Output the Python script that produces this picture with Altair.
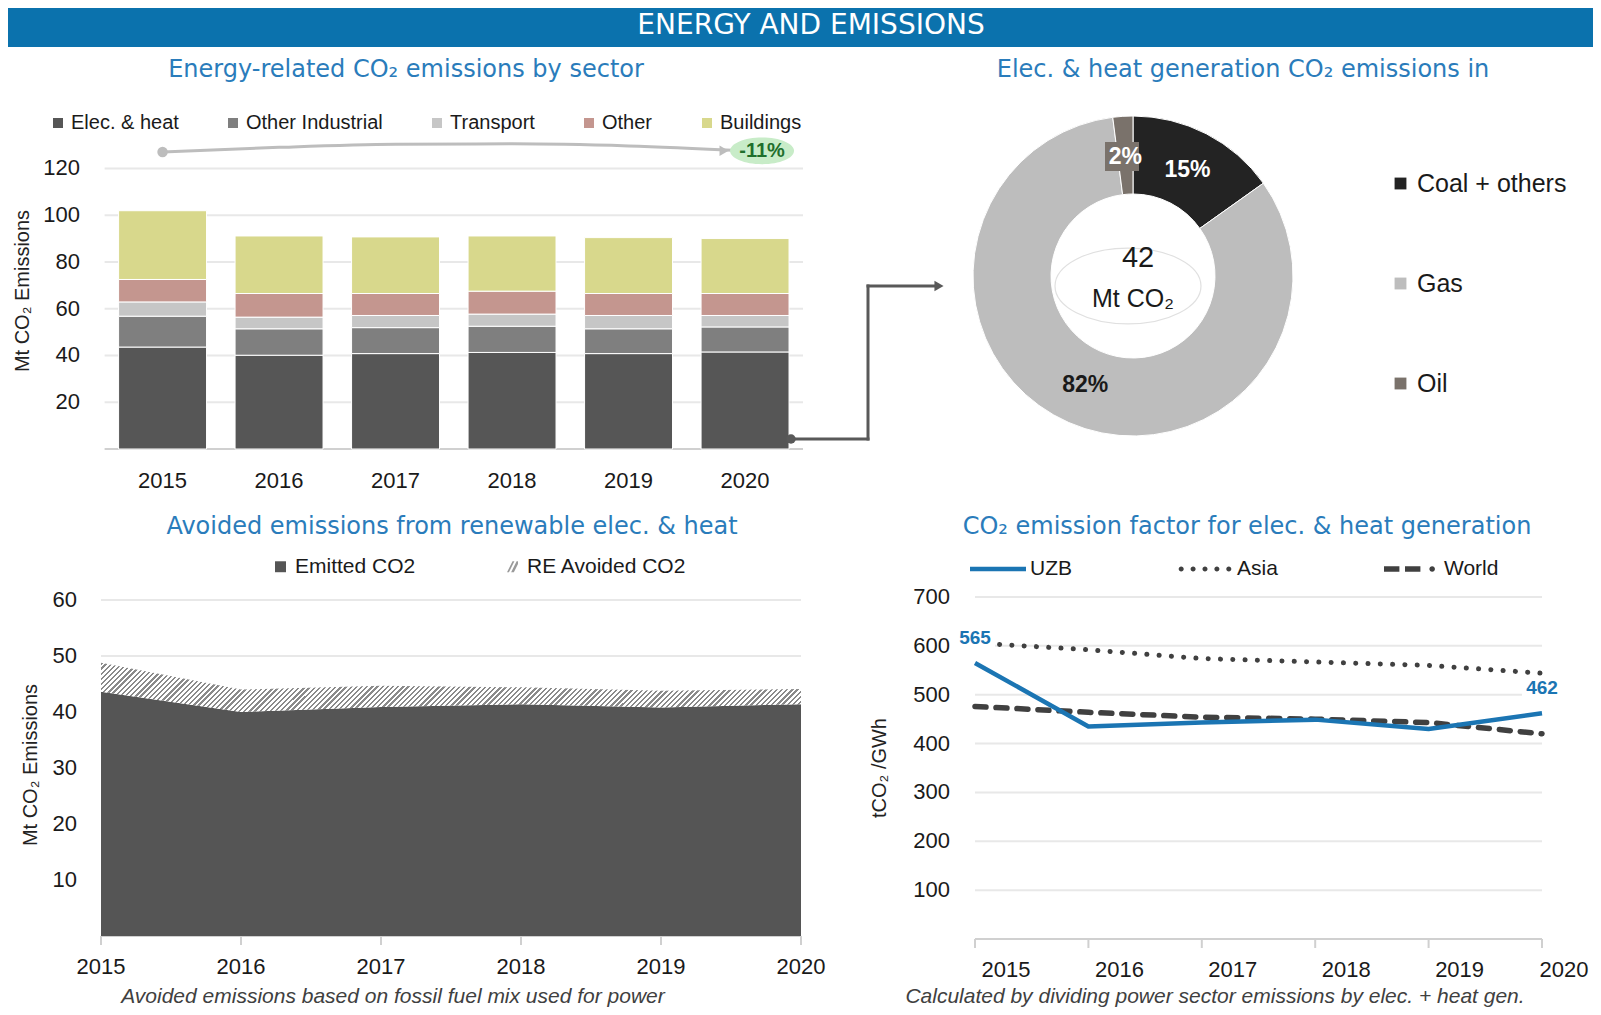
import altair as alt
import pandas as pd

# ---------------- data ----------------
years = ["2015", "2016", "2017", "2018", "2019", "2020"]
year_nums = [2015, 2016, 2017, 2018, 2019, 2020]

sectors = ["Elec. & heat", "Other Industrial", "Transport", "Other", "Buildings"]
elec_heat = [43.6, 40.1, 40.8, 41.3, 40.8, 41.5]
other_industrial = [13.2, 11.3, 11.1, 11.2, 10.6, 10.7]
transport = [6.1, 5.0, 5.2, 5.2, 5.7, 4.9]
other = [9.6, 10.1, 9.4, 9.8, 9.4, 9.4]
buildings = [29.4, 24.6, 24.2, 23.6, 23.9, 23.5]
sector_ticks = [20, 40, 60, 80, 100, 120]
change_label = "-11%"
trend_arc = [127.0, 129.0, 130.3, 130.5, 129.6, 127.5]

fuels = ["Coal + others", "Gas", "Oil"]
fuel_share = [15, 82, 2]
fuel_labels = ["15%", "82%", "2%"]
power_total = "42"
power_unit = "Mt CO₂"

area_series = ["Emitted CO2", "RE Avoided CO2"]
emitted = [43.6, 40.0, 40.9, 41.4, 40.8, 41.4]
avoided = [5.2, 4.0, 3.8, 3.0, 3.0, 2.7]
area_ticks = [10, 20, 30, 40, 50, 60]

ef_series = ["UZB", "Asia", "World"]
uzb = [565, 435, 443, 449, 430, 462]
asia = [606, 592, 574, 567, 560, 544]
world = [476, 464, 454, 450, 443, 420]
ef_ticks = [100, 200, 300, 400, 500, 600, 700]

# ---------------- styling / layout ----------------
W, H = 1585, 999
SANS = "'Liberation Sans', Arial, sans-serif"
WIDE = "'DejaVu Sans', sans-serif"
HEADER_BLUE = "#0b72ad"
TITLE_BLUE = "#2a7cbb"
UZB_BLUE = "#1b75b3"
INK = "#1a1a1a"
GRID = "#e8e8e8"
AXIS = "#d0d0d0"

sector_colors = ["#565656", "#7f7f7f", "#c6c6c6", "#c4968f", "#d8d88c"]
fuel_colors = ["#232323", "#bdbdbd", "#7a726b"]

BX0, BX1, BY0, BY1 = 96.6, 795.0, 441.0, 160.4
DCX, DCY = 1125, 268
AX0, AX1, AY0, AY1 = 93.0, 793.0, 928.0, 592.0
LX0, LX1, LY0, LY1 = 967.0, 1534.0, 931.0, 589.0


def txt(text, x, y, size, color=INK, font=SANS, weight="normal", style="normal", align="center", angle=0):
    return alt.Chart(pd.DataFrame({"t": [text]})).mark_text(
        font=font, fontSize=size, color=color, fontWeight=weight, fontStyle=style,
        align=align, baseline="middle", angle=angle
    ).encode(text="t:N", x=alt.value(x), y=alt.value(y))


def ellipse(ratio):
    return f"M-1,0A1,{ratio},0,1,0,1,0A1,{ratio},0,1,0,-1,0Z"


def dot(cx, r):
    return f"M{cx - r},0A{r},{r},0,1,0,{cx + r},0A{r},{r},0,1,0,{cx - r},0Z"


def tick_labels_y(ticks, scale, x_right, size=22):
    return alt.Chart(pd.DataFrame({"v": ticks})).mark_text(
        align="right", baseline="middle", font=SANS, fontSize=size, color=INK
    ).encode(y=alt.Y("v:Q", scale=scale, axis=None), x=alt.value(x_right), text="v:Q")


def grid_rules(ticks, scale, x0, x1, color=GRID):
    return alt.Chart(pd.DataFrame({"v": ticks})).mark_rule(color=color, strokeWidth=2).encode(
        y=alt.Y("v:Q", scale=scale, axis=None), x=alt.value(x0), x2=alt.value(x1))


# ---------------- header ----------------
header_bar = alt.Chart(pd.DataFrame({"t": [0]})).mark_rect(color=HEADER_BLUE).encode(
    x=alt.value(0), x2=alt.value(W), y=alt.value(0), y2=alt.value(39))
header_text = txt("ENERGY AND EMISSIONS", 803, 18, 28, color="white", font=WIDE)

titles = [
    txt("Energy-related CO₂ emissions by sector", 398, 62, 24, TITLE_BLUE, WIDE),
    txt("Elec. & heat generation CO₂ emissions in", 1235, 62, 24, TITLE_BLUE, WIDE),
    txt("Avoided emissions from renewable elec. & heat", 444, 519, 24, TITLE_BLUE, WIDE),
    txt("CO₂ emission factor for elec. & heat generation", 1239, 519, 24, TITLE_BLUE, WIDE),
    txt("Avoided emissions based on fossil fuel mix used for power", 385, 989, 21, "#404040", SANS, style="italic"),
    txt("Calculated by dividing power sector emissions by elec. + heat gen.", 1207, 989, 21, "#404040", SANS, style="italic"),
    txt("Mt CO₂ Emissions", 14.5, 283, 20, "#222", SANS, angle=270),
    txt("Mt CO₂ Emissions", 23, 757, 20, "#222", SANS, angle=270),
    txt("tCO₂ /GWh", 872, 760, 20, "#222", SANS, angle=270),
]

# ---------------- panel 1: stacked bars ----------------
sector_values = [elec_heat, other_industrial, transport, other, buildings]
bar_df = pd.DataFrame([
    {"year": y, "sector": s, "value": vals[i], "idx": k}
    for k, (s, vals) in enumerate(zip(sectors, sector_values))
    for i, y in enumerate(years)
])
bar_x = alt.Scale(domain=years, range=[BX0, BX1], paddingInner=0.245, paddingOuter=0.12)
bar_y = alt.Scale(domain=[0, 120], range=[BY0, BY1], nice=False, zero=True)

bar_grid = grid_rules(sector_ticks, bar_y, BX0, BX1)
bar_base = grid_rules([0], bar_y, BX0, BX1, color=AXIS)
bar_ylabels = tick_labels_y(sector_ticks, bar_y, 72)
bar_xlabels = alt.Chart(pd.DataFrame({"year": years})).mark_text(
    baseline="middle", font=SANS, fontSize=22, color=INK).encode(
    x=alt.X("year:N", scale=bar_x, axis=None), y=alt.value(473), text="year:N")

bars = alt.Chart(bar_df).mark_bar(stroke="white", strokeWidth=1).encode(
    x=alt.X("year:N", scale=bar_x, axis=None),
    y=alt.Y("value:Q", stack="zero", scale=bar_y, axis=None),
    color=alt.Color("sector:N", scale=alt.Scale(domain=sectors, range=sector_colors), legend=alt.Legend(
        orient="none", legendX=40, legendY=105, direction="horizontal", columns=5, title=None,
        symbolType="square", symbolSize=100, symbolStrokeWidth=0, labelFont=SANS, labelFontSize=20,
        labelColor=INK, labelOffset=3, columnPadding=44, padding=0, labelLimit=300)),
    order=alt.Order("idx:Q"),
)

trend_df = pd.DataFrame({"year": years, "arc": trend_arc})
tx = alt.X("year:N", scale=bar_x, axis=None)
ty = alt.Y("arc:Q", scale=bar_y, axis=None)
trend_line = alt.Chart(trend_df).mark_line(color="#bdbdbd", strokeWidth=3, interpolate="monotone").encode(x=tx, y=ty)
trend_start = alt.Chart(trend_df.iloc[[0]]).mark_circle(size=110, color="#bdbdbd", opacity=1).encode(x=tx, y=ty)
trend_head = alt.Chart(trend_df.iloc[[-1]]).mark_point(
    shape="triangle-right", filled=True, size=110, color="#bdbdbd", opacity=1, xOffset=-21).encode(x=tx, y=ty)
badge_df = pd.DataFrame({"year": [years[-1]], "arc": [trend_arc[-1]], "t": [change_label]})
badge = alt.Chart(badge_df).mark_point(
    shape=ellipse(0.42), size=64 ** 2, filled=True, color="#c8ecc8", opacity=1, xOffset=17).encode(x=tx, y=ty)
badge_text = alt.Chart(badge_df).mark_text(
    dx=17, fontSize=20, fontWeight="bold", color="#1f6f2c", font=SANS).encode(x=tx, y=ty, text="t:N")

bar_panel = alt.layer(bar_grid, bar_base, bars, bar_ylabels, bar_xlabels,
                      trend_line, trend_start, trend_head, badge, badge_text)

# connector arrow from bar chart to donut
CONN = "#595959"
one = pd.DataFrame({"t": [0]})
connector = [
    alt.Chart(one).mark_rule(color=CONN, strokeWidth=3, strokeCap="square").encode(
        x=alt.value(783), x2=alt.value(860), y=alt.value(431)),
    alt.Chart(one).mark_rule(color=CONN, strokeWidth=3, strokeCap="square").encode(
        x=alt.value(860), y=alt.value(278), y2=alt.value(431)),
    alt.Chart(one).mark_rule(color=CONN, strokeWidth=3, strokeCap="square").encode(
        x=alt.value(860), x2=alt.value(928), y=alt.value(278)),
    alt.Chart(one).mark_circle(color=CONN, size=90, opacity=1).encode(
        x=alt.value(783), y=alt.value(431)),
    alt.Chart(one).mark_point(shape="triangle-right", filled=True, color=CONN, size=110, opacity=1).encode(
        x=alt.value(931), y=alt.value(278)),
]

# ---------------- panel 2: donut ----------------
fuel_df = pd.DataFrame({"fuel": fuels, "share": fuel_share, "label": fuel_labels, "idx": [0, 1, 2]})
donut = alt.Chart(fuel_df).mark_arc(innerRadius=82, outerRadius=160, stroke="white", strokeWidth=1).encode(
    theta=alt.Theta("share:Q", stack=True),
    color=alt.Color("fuel:N", scale=alt.Scale(domain=fuels, range=fuel_colors), legend=alt.Legend(
        orient="none", legendX=1380, legendY=163, direction="vertical", title=None,
        symbolType="square", symbolSize=140, symbolStrokeWidth=0, labelFont=SANS, labelFontSize=25,
        labelColor=INK, labelOffset=4, rowPadding=74, padding=0, labelLimit=300)),
    order=alt.Order("idx:Q"),
    x=alt.value(DCX), y=alt.value(DCY),
)
oil_box = alt.Chart(one).mark_rect(color=fuel_colors[2]).encode(
    x=alt.value(1097), x2=alt.value(1131), y=alt.value(134), y2=alt.value(163))
donut_text = alt.Chart(fuel_df).mark_text(radius=119, fontSize=23, font=SANS, fontWeight="bold").encode(
    theta=alt.Theta("share:Q", stack=True),
    order=alt.Order("idx:Q"),
    text="label:N",
    color=alt.condition(alt.datum.fuel == "Gas", alt.value(INK), alt.value("white")),
    x=alt.value(DCX), y=alt.value(DCY),
)
center_ring = alt.Chart(one).mark_point(
    shape=ellipse(0.52), size=146 ** 2, filled=False, color="#e0e0e0", strokeWidth=1.2, opacity=1).encode(
    x=alt.value(1120), y=alt.value(278))
donut_panel = alt.layer(donut, oil_box, donut_text)
center_texts = [
    center_ring,
    txt(power_total, 1130, 250, 29, INK, SANS),
    txt(power_unit, 1125, 291, 25, INK, SANS),
]

# ---------------- panel 3: avoided emissions area ----------------
area_df = pd.DataFrame({"year": year_nums, "emitted": emitted, "avoided": avoided})
area_df["total"] = area_df["emitted"] + area_df["avoided"]
area_x = alt.Scale(domain=[2015, 2020], range=[AX0, AX1], nice=False, zero=False)
area_y = alt.Scale(domain=[0, 60], range=[AY0, AY1], nice=False, zero=True)

n_stripes = 150
T = 1.0 / n_stripes
stops = []
for k in range(n_stripes):
    o = k * T
    stops += [
        {"offset": round(o, 6), "color": "#8a8a8a"},
        {"offset": round(o + 0.45 * T, 6), "color": "#8a8a8a"},
        {"offset": round(o + 0.45 * T, 6), "color": "#ffffff"},
        {"offset": round(o + T, 6), "color": "#ffffff"},
    ]
hatch = {"gradient": "linear", "x1": 0, "y1": 0, "x2": 1.1, "y2": 0.0775, "stops": stops}

ax_ = alt.X("year:Q", scale=area_x, axis=None)
area_grid = grid_rules(area_ticks, area_y, AX0, AX1)
area_base = grid_rules([0], area_y, AX0, AX1, color=AXIS)
area_ticks_marks = alt.Chart(pd.DataFrame({"year": year_nums})).mark_rule(color=AXIS, strokeWidth=2).encode(
    x=ax_, y=alt.value(AY0), y2=alt.value(AY0 + 9))
area_xlabels = alt.Chart(pd.DataFrame({"year": year_nums})).mark_text(
    baseline="middle", font=SANS, fontSize=22, color=INK).encode(
    x=ax_, y=alt.value(959), text=alt.Text("year:Q", format="d"))
area_ylabels = tick_labels_y(area_ticks, area_y, 69)
emitted_area = alt.Chart(area_df).mark_area(color="#555555").encode(
    x=ax_, y=alt.Y("emitted:Q", scale=area_y, axis=None))
avoided_area = alt.Chart(area_df).mark_area(fill=hatch, strokeWidth=0).encode(
    x=ax_, y=alt.Y("total:Q", scale=area_y, axis=None), y2="emitted:Q")
hatch_icon = "M-1,1L0,-1L0.35,-1L-0.65,1Z M-0.25,1L0.75,-1L1,-1L1,-0.5L0.25,1Z"
area_legend_args = dict(
    orient="none", legendX=262, legendY=548, direction="horizontal", columns=2, title=None,
    symbolSize=120, labelFont=SANS, labelFontSize=21, labelColor=INK, labelOffset=4,
    columnPadding=86, padding=0, labelLimit=300, symbolStrokeWidth=0)
area_legend = alt.Chart(pd.DataFrame({"series": area_series})).transform_filter("false").mark_point(
    filled=True, opacity=1).encode(
    color=alt.Color("series:N", scale=alt.Scale(domain=area_series, range=["#555555", "#9a9a9a"]),
                    legend=alt.Legend(**area_legend_args)),
    shape=alt.Shape("series:N", scale=alt.Scale(domain=area_series, range=["square", hatch_icon]),
                    legend=alt.Legend(**area_legend_args)),
)
area_panel = alt.layer(area_grid, area_base, area_ticks_marks, emitted_area, avoided_area,
                       area_xlabels, area_ylabels, area_legend)

# ---------------- panel 4: emission factor lines ----------------
ef_df = pd.DataFrame(
    [{"series": s, "year": y, "value": v}
     for s, vals in zip(ef_series, [uzb, asia, world])
     for y, v in zip(year_nums, vals)]
)
line_x = alt.Scale(domain=[2015, 2020], range=[LX0, LX1], nice=False, zero=False)
line_y = alt.Scale(domain=[0, 700], range=[LY0, LY1], nice=False, zero=True)
lx = alt.X("year:Q", scale=line_x, axis=None)
ly = alt.Y("value:Q", scale=line_y, axis=None)

line_grid = grid_rules(ef_ticks, line_y, LX0, LX1)
line_base = grid_rules([0], line_y, LX0, LX1, color=AXIS)
year_df = pd.DataFrame({"year": year_nums})
line_ticks_marks = alt.Chart(year_df).mark_rule(color=AXIS, strokeWidth=2).encode(
    x=lx, y=alt.value(LY0), y2=alt.value(LY0 + 9))
line_xlabels = alt.Chart(year_df).transform_filter("datum.year < 2020").mark_text(
    baseline="middle", font=SANS, fontSize=22, color=INK, dx=31).encode(
    x=lx, y=alt.value(962), text=alt.Text("year:Q", format="d"))
line_xlabel_last = alt.Chart(year_df).transform_filter("datum.year == 2020").mark_text(
    baseline="middle", font=SANS, fontSize=22, color=INK, dx=22).encode(
    x=lx, y=alt.value(962), text=alt.Text("year:Q", format="d"))
line_ylabels = tick_labels_y(ef_ticks, line_y, 942)

world_line = alt.Chart(ef_df).transform_filter("datum.series == 'World'").mark_line(
    color="#404040", strokeWidth=5.5, strokeDash=[11, 10], strokeCap="round").encode(x=lx, y=ly)
asia_line = alt.Chart(ef_df).transform_filter("datum.series == 'Asia'").mark_line(
    color="#404040", strokeWidth=5, strokeDash=[0.1, 12.2], strokeCap="round").encode(x=lx, y=ly)
uzb_line = alt.Chart(ef_df).transform_filter("datum.series == 'UZB'").mark_line(
    color=UZB_BLUE, strokeWidth=4.5, strokeJoin="round").encode(x=lx, y=ly)
end_filter = "datum.series == 'UZB' && (datum.year == 2015 || datum.year == 2020)"
uzb_label_bg = alt.Chart(ef_df).transform_filter(end_filter).mark_point(
    shape="M-1,-0.55H1V0.55H-1Z", size=40 ** 2, filled=True, color="white", opacity=1, yOffset=-25).encode(x=lx, y=ly)
uzb_labels = alt.Chart(ef_df).transform_filter(end_filter).mark_text(
    dy=-25, fontSize=19, fontWeight="bold", color=UZB_BLUE, font=SANS).encode(
    x=lx, y=ly, text=alt.Text("value:Q", format="d"))

asia_icon = " ".join(dot(c, 0.09) for c in [-0.85, -0.425, 0.0, 0.425, 0.85])
world_icon = "M-1,-0.1H-0.45V0.1H-1Z M-0.25,-0.1H0.3V0.1H-0.25Z " + dot(0.72, 0.1)
uzb_icon = "M-1,-0.08H1V0.08H-1Z"
line_legend_args = dict(
    orient="none", legendX=962, legendY=533, direction="horizontal", columns=3, title=None,
    symbolSize=56 ** 2, labelFont=SANS, labelFontSize=21, labelColor=INK, labelOffset=4,
    columnPadding=92, gridAlign="all", padding=0, labelLimit=300, symbolStrokeWidth=0)
line_legend = alt.Chart(pd.DataFrame({"series": ef_series})).transform_filter("false").mark_point(
    filled=True, opacity=1).encode(
    color=alt.Color("series:N", scale=alt.Scale(domain=ef_series, range=[UZB_BLUE, "#404040", "#404040"]),
                    legend=alt.Legend(**line_legend_args)),
    shape=alt.Shape("series:N", scale=alt.Scale(domain=ef_series, range=[uzb_icon, asia_icon, world_icon]),
                    legend=alt.Legend(**line_legend_args)),
)
line_panel = alt.layer(line_grid, line_base, line_ticks_marks, line_xlabels, line_xlabel_last, line_ylabels,
                       world_line, asia_line, uzb_line, uzb_label_bg, uzb_labels, line_legend)

# ---------------- assemble ----------------
chart = alt.layer(
    header_bar, header_text, *titles,
    bar_panel, *connector, donut_panel, *center_texts, area_panel, line_panel,
).resolve_scale(
    x="independent", y="independent", color="independent", shape="independent", theta="independent"
).properties(
    width=W, height=H, autosize=alt.AutoSizeParams(type="none"), padding=0
).configure_view(stroke=None)

chart.save("out.html", embed_options={"renderer": "svg", "actions": False})
